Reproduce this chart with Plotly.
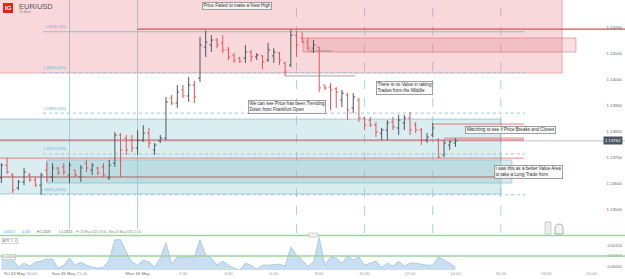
import plotly.graph_objects as go

W, H = 625, 279
MB = 9
PH = H - MB  # plot-area height in px

# ---------------- data ----------------
# 15-minute bars, x in hours relative to Mon 26 May 00:00 (weekend gap removed)
bar_hours = [-6.0 + 0.25 * k for k in range(81)]

open_ = [1.13620, 1.13669, 1.13631, 1.13581, 1.13604, 1.13631, 1.13612, 1.13592, 1.13650, 1.13623,
         1.13658, 1.13662, 1.13631, 1.13650, 1.13623, 1.13677, 1.13650, 1.13658, 1.13662, 1.13620,
         1.13677, 1.13785, 1.13773, 1.13765, 1.13735, 1.13765, 1.13792, 1.13727, 1.13762, 1.13773,
         1.13927, 1.13908, 1.13958, 1.13935, 1.13977, 1.14004, 1.14123, 1.14131, 1.14150, 1.14139,
         1.14112, 1.14092, 1.14081, 1.14081, 1.14104, 1.14085, 1.14089, 1.14073, 1.14089, 1.14100,
         1.14062, 1.14054, 1.14169, 1.14158, 1.14142, 1.14119, 1.14123, 1.13977, 1.13969, 1.13962,
         1.13919, 1.13939, 1.13889, 1.13919, 1.13850, 1.13842, 1.13823, 1.13792, 1.13804, 1.13835,
         1.13812, 1.13831, 1.13850, 1.13823, 1.13804, 1.13765, 1.13785, 1.13765, 1.13708, 1.13746,
         1.13754]
high = [1.13677, 1.13696, 1.13639, 1.13612, 1.13658, 1.13639, 1.13623, 1.13639, 1.13681, 1.13677,
        1.13662, 1.13677, 1.13681, 1.13650, 1.13669, 1.13689, 1.13677, 1.13662, 1.13677, 1.13689,
        1.13796, 1.13792, 1.13785, 1.13785, 1.13804, 1.13823, 1.13812, 1.13754, 1.13785, 1.13931,
        1.13939, 1.13977, 1.13977, 1.14008, 1.13992, 1.14162, 1.14187, 1.14169, 1.14158, 1.14169,
        1.14123, 1.14100, 1.14085, 1.14131, 1.14112, 1.14100, 1.14092, 1.14139, 1.14119, 1.14104,
        1.14066, 1.14189, 1.14185, 1.14181, 1.14158, 1.14150, 1.14123, 1.13977, 1.13985, 1.13969,
        1.13958, 1.13946, 1.13946, 1.13927, 1.13854, 1.13854, 1.13835, 1.13812, 1.13842, 1.13854,
        1.13862, 1.13862, 1.13873, 1.13835, 1.13812, 1.13792, 1.13831, 1.13773, 1.13765, 1.13765,
        1.13773]
low = [1.13600, 1.13635, 1.13562, 1.13573, 1.13592, 1.13604, 1.13585, 1.13554, 1.13604, 1.13604,
       1.13631, 1.13631, 1.13600, 1.13623, 1.13604, 1.13642, 1.13631, 1.13631, 1.13623, 1.13612,
       1.13662, 1.13623, 1.13708, 1.13719, 1.13708, 1.13758, 1.13735, 1.13708, 1.13754, 1.13765,
       1.13900, 1.13889, 1.13927, 1.13912, 1.13908, 1.13989, 1.14085, 1.14104, 1.14119, 1.14100,
       1.14073, 1.14062, 1.14062, 1.14062, 1.14066, 1.14073, 1.14039, 1.14066, 1.14062, 1.14054,
       1.14012, 1.14046, 1.14085, 1.14139, 1.14112, 1.14100, 1.13950, 1.13958, 1.13881, 1.13889,
       1.13892, 1.13842, 1.13869, 1.13835, 1.13804, 1.13816, 1.13777, 1.13765, 1.13765, 1.13804,
       1.13785, 1.13804, 1.13785, 1.13792, 1.13746, 1.13754, 1.13777, 1.13696, 1.13700, 1.13727,
       1.13739]
close = [1.13669, 1.13642, 1.13573, 1.13604, 1.13642, 1.13612, 1.13592, 1.13631, 1.13623, 1.13658,
         1.13639, 1.13642, 1.13669, 1.13631, 1.13658, 1.13658, 1.13669, 1.13639, 1.13631, 1.13669,
         1.13785, 1.13727, 1.13727, 1.13735, 1.13765, 1.13792, 1.13754, 1.13746, 1.13773, 1.13912,
         1.13908, 1.13950, 1.13935, 1.13977, 1.13931, 1.14131, 1.14142, 1.14150, 1.14131, 1.14112,
         1.14085, 1.14073, 1.14069, 1.14104, 1.14085, 1.14092, 1.14066, 1.14112, 1.14104, 1.14073,
         1.14027, 1.14169, 1.14131, 1.14142, 1.14119, 1.14131, 1.13966, 1.13966, 1.13958, 1.13950,
         1.13946, 1.13881, 1.13931, 1.13850, 1.13823, 1.13823, 1.13796, 1.13804, 1.13831, 1.13816,
         1.13842, 1.13850, 1.13804, 1.13804, 1.13765, 1.13777, 1.13812, 1.13700, 1.13754, 1.13758,
         1.13762]

atr = [0.00090, 0.00088, 0.00085, 0.00045, 0.00065, 0.00050, 0.00070, 0.00075, 0.00085, 0.00085,
       0.00040, 0.00055, 0.00090, 0.00055, 0.00070, 0.00055, 0.00045, 0.00040, 0.00045, 0.00080,
       0.00180, 0.00180, 0.00120, 0.00070, 0.00055, 0.00080, 0.00070, 0.00045, 0.00090, 0.00165,
       0.00060, 0.00095, 0.00095, 0.00095, 0.00095, 0.00180, 0.00105, 0.00090, 0.00055, 0.00075,
       0.00055, 0.00040, 0.00030, 0.00065, 0.00055, 0.00035, 0.00055, 0.00055, 0.00058, 0.00060,
       0.00050, 0.00145, 0.00105, 0.00080, 0.00050, 0.00070, 0.00190, 0.00055, 0.00095, 0.00090,
       0.00065, 0.00100, 0.00080, 0.00095, 0.00055, 0.00065, 0.00075, 0.00045, 0.00065, 0.00050,
       0.00075, 0.00050, 0.00065, 0.00065, 0.00060, 0.00055, 0.00055, 0.00095, 0.00080, 0.00065,
       0.00045]

price_ticks = [1.135, 1.136, 1.137, 1.138, 1.139, 1.140, 1.141, 1.142]
atr_ticks = [0.0005, 0.0010, 0.0015]
atr_levels = [0.0020, 0.0010]

x_tickvals = [-5.15, -3, 0, 2, 4, 6, 8, 10, 12, 14, 16, 18, 20]
x_ticktext = ["<b>Fri 23 May</b> 20:00", "<b>Sun 25 May</b> 21:00", "<b>Mon 26 May</b>",
              "2:00", "4:00", "6:00", "8:00", "10:00", "12:00", "14:00", "16:00", "18:00", "20:00"]

fib_levels = [1.14182, 1.14025, 1.13869, 1.13712, 1.13555]
fib_labels = ["1.14182 (0%)", "1.14025 (25%)", "1.13869 (50%)", "1.13712 (75%)", "1.13555 (100%)"]
fib_span = [-4.17, 17.07]

# zones: (x0, x1, y0, y1, fill, border)
zones = [
    (-6.3, 18.70, 1.14023, 1.14330, "rgba(230,110,120,0.27)", "rgba(225,120,128,0.55)"),
    (7.29, 19.31, 1.14104, 1.14158, "rgba(220,100,108,0.2)", "rgba(215,105,112,0.55)"),
    (-6.3, 16.00, 1.13558, 1.13846, "rgba(140,200,210,0.32)", "rgba(120,180,195,0.6)"),
    (-3.99, 16.49, 1.13600, 1.13689, "rgba(110,180,190,0.25)", "rgba(110,175,185,0.5)"),
]
# horizontal levels: (x0, x1, price, color, width)
levels = [
    (0.0, 21.6, 1.14192, "#d9534f", 1.2),
    (-6.3, 17.02, 1.13765, "rgba(190,120,120,0.75)", 2.0),
    (-6.3, 17.02, 1.13696, "rgba(225,95,95,0.75)", 1.0),
    (-6.3, 17.02, 1.13623, "rgba(185,140,140,0.8)", 2.0),
    (13.0, 17.02, 1.13827, "rgba(225,95,95,0.8)", 1.0),
    (13.5, 17.02, 1.13773, "rgba(225,95,95,0.8)", 1.0),
    (6.5, 9.58, 1.14012, "rgba(140,140,140,0.8)", 1.0),
    (7.51, 8.56, 1.14108, "rgba(140,140,140,0.8)", 1.0),
    (17.02, 21.6, 1.13762, "rgba(170,170,170,0.9)", 0.8),
]
session_solid = [-3, 0]
session_dashed = [7, 10, 13, 16]

notes = [
    (4.40, 1.14281, "Price Failed to make a New High"),
    (6.58, 1.13891, "We can see Price has been Trending<br>Down from Frankfurt Open"),
    (11.76, 1.13964, "There is no Value in taking<br>Trades from the Middle"),
    (16.43, 1.13804, "Watching to see if Price Breaks and Closes"),
    (17.20, 1.13642, "I saw this as a better Value Area<br>to take a Long Trade from"),
]
last_price = 1.13762

FONT = "Liberation Sans, Arial, sans-serif"


def pxx(p):
    return p / W


def pxy(p):
    return 1 - p / PH


fig = go.Figure()
fig.add_trace(go.Ohlc(
    x=bar_hours, open=open_, high=high, low=low, close=close,
    xaxis="x", yaxis="y", tickwidth=0.32,
    increasing=dict(line=dict(color="#4f565e", width=1)),
    decreasing=dict(line=dict(color="#e0575b", width=1)),
    showlegend=False, hoverinfo="skip"))
fig.add_trace(go.Scatter(
    x=bar_hours, y=atr, xaxis="x2", yaxis="y2", mode="lines",
    line=dict(color="#9cc2e3", width=0.8), fill="tozeroy",
    fillcolor="rgba(165,200,232,0.6)", showlegend=False, hoverinfo="skip"))

shapes = []
for x0, x1, y0, y1, fc, lc in zones:
    shapes.append(dict(type="rect", xref="x", yref="y", x0=x0, x1=x1, y0=y0, y1=y1,
                       fillcolor=fc, line=dict(color=lc, width=1), layer="below"))
for x0, x1, yv, c, w in levels:
    shapes.append(dict(type="line", xref="x", yref="y", x0=x0, x1=x1, y0=yv, y1=yv,
                       line=dict(color=c, width=w), layer="below"))
for i, lv in enumerate(fib_levels):
    shapes.append(dict(type="line", xref="x", yref="y", x0=fib_span[0], x1=fib_span[1], y0=lv, y1=lv,
                       line=dict(color="#9cc6e0" if i else "#a9b8c6", width=1,
                                 dash="solid" if i == 0 else "dot"), layer="below"))
for xv in session_solid:
    shapes.append(dict(type="line", xref="x", yref="paper", x0=xv, x1=xv, y0=pxy(229), y1=1,
                       line=dict(color="#a9d4e0", width=1), layer="below"))
for xv in session_dashed:
    shapes.append(dict(type="line", xref="x", yref="paper", x0=xv, x1=xv, y0=pxy(233), y1=1,
                       line=dict(color="#a9d4e0", width=1, dash="dash"), layer="below"))
for lv in atr_levels:
    shapes.append(dict(type="line", xref="paper", yref="y2", x0=0, x1=1, y0=lv, y1=lv,
                       line=dict(color="#9ed29e", width=1.5)))
# logo
shapes.append(dict(type="rect", xref="paper", yref="paper", x0=pxx(3), x1=pxx(13), y0=pxy(13), y1=pxy(3),
                   fillcolor="#e1251b", line=dict(width=0)))
# pane drag handle
shapes.append(dict(type="rect", xref="paper", yref="paper", x0=pxx(309), x1=pxx(318), y0=pxy(237), y1=pxy(233),
                   fillcolor="#f2f2f2", line=dict(color="#bbbbbb", width=0.6)))
# small UI icons bottom right
shapes.append(dict(type="rect", xref="paper", yref="paper", x0=pxx(545), x1=pxx(551), y0=pxy(234), y1=pxy(222),
                   fillcolor="#ececec", line=dict(color="#b5b5b5", width=0.6)))
shapes.append(dict(type="path", xref="paper", yref="paper",
                   path=f"M {pxx(555)},{pxy(234)} L {pxx(555)},{pxy(229)} Q {pxx(555)},{pxy(224)} {pxx(559)},{pxy(224)} "
                        f"Q {pxx(563)},{pxy(224)} {pxx(563)},{pxy(229)} L {pxx(563)},{pxy(234)} Z",
                   fillcolor="#f4f4f4", line=dict(color="#999999", width=0.8)))

ann = []
for xv, yv, t in notes:
    ann.append(dict(x=xv, y=yv, xref="x", yref="y", text=t, showarrow=False, align="left",
                    xanchor="center", yanchor="middle", font=dict(family=FONT, size=4.6, color="#333"),
                    bgcolor="rgba(248,248,248,0.92)", bordercolor="#8a8a8a", borderwidth=0.8, borderpad=0.6))
for lv, lab in zip(fib_levels, fib_labels):
    ann.append(dict(x=-3.05, y=lv, xref="x", yref="y", text=lab, showarrow=False, xanchor="right",
                    yanchor="bottom", yshift=0.5, font=dict(family=FONT, size=3.5, color="#6aa8d4")))
ann.append(dict(x=0.997, y=last_price, xref="paper", yref="y", text="1.13762", showarrow=False,
                xanchor="right", yanchor="middle", font=dict(family=FONT, size=4.3, color="white"),
                bgcolor="#4b5763", borderpad=1))
ann.append(dict(x=pxx(8), y=pxy(8.3), xref="paper", yref="paper", text="<b>IG</b>", showarrow=False,
                xanchor="center", yanchor="middle", font=dict(family=FONT, size=6, color="white")))
ann.append(dict(x=pxx(16.5), y=pxy(6), xref="paper", yref="paper", text="EUR/USD", showarrow=False,
                xanchor="left", yanchor="middle", font=dict(family=FONT, size=7.5, color="#555")))
ann.append(dict(x=pxx(16.5), y=pxy(11.6), xref="paper", yref="paper", text="15 Mins", showarrow=False,
                xanchor="left", yanchor="middle", font=dict(family=FONT, size=3.4, color="#888")))
# info line
info = [(1.7, "0.00157", "#3d8fd6"), (20, "0.14%", "#3d8fd6"), (35, "H:1.14187", "#555"),
        (57, "L:1.13555", "#555"), (73.5, "Fri 23 May 2025 19:00 - Mon 26 May 2025 21:15", "#888")]
for xp, t, c in info:
    ann.append(dict(x=pxx(xp), y=pxy(231.5), xref="paper", yref="paper", text=t, showarrow=False,
                    xanchor="left", yanchor="middle", font=dict(family=FONT, size=3.0, color=c)))
ann.append(dict(x=pxx(2), y=pxy(240.5), xref="paper", yref="paper", text="ATR  1  4", showarrow=False,
                xanchor="left", yanchor="middle", font=dict(family=FONT, size=3.3, color="#777"),
                bgcolor="white", bordercolor="#aaaaaa", borderwidth=0.5, borderpad=0.5))
ann.append(dict(x=pxx(2), y=pxy(256.5), xref="paper", yref="paper", text="0.00100", showarrow=False,
                xanchor="left", yanchor="middle", font=dict(family=FONT, size=3.3, color="#777"),
                bgcolor="white", bordercolor="#9ed29e", borderwidth=0.6, borderpad=0.5))

xr = [-6.06, 21.47]
fig.update_layout(
    width=W, height=H, margin=dict(l=0, r=0, t=0, b=MB),
    paper_bgcolor="white", plot_bgcolor="white",
    font=dict(family=FONT, color="#666"),
    shapes=shapes, annotations=ann, showlegend=False,
    xaxis=dict(domain=[0, 1], range=xr, anchor="y", showticklabels=False, showgrid=False,
               zeroline=False, showline=False, ticks="", rangeslider=dict(visible=False)),
    yaxis=dict(domain=[pxy(233), 1], range=[1.13408, 1.14304], side="right", ticklabelposition="inside",
               tickvals=price_ticks, tickformat=".5f", showgrid=False, zeroline=False, showline=False,
               ticks="", tickfont=dict(size=4.3, color="#666")),
    xaxis2=dict(domain=[0, 1], range=xr, anchor="y2", matches="x", tickvals=x_tickvals, ticktext=x_ticktext,
                showgrid=False, zeroline=False, showline=False, ticks="", tickangle=0,
                tickfont=dict(size=4.3, color="#9a9a9a")),
    yaxis2=dict(domain=[0, pxy(234)], range=[0.000314, 0.002078], side="right", ticklabelposition="inside",
                tickvals=atr_ticks, tickformat=".5f", showgrid=False, zeroline=False, showline=False,
                ticks="", tickfont=dict(size=4.0, color="#666")),
)

fig.write_html("out.html")
